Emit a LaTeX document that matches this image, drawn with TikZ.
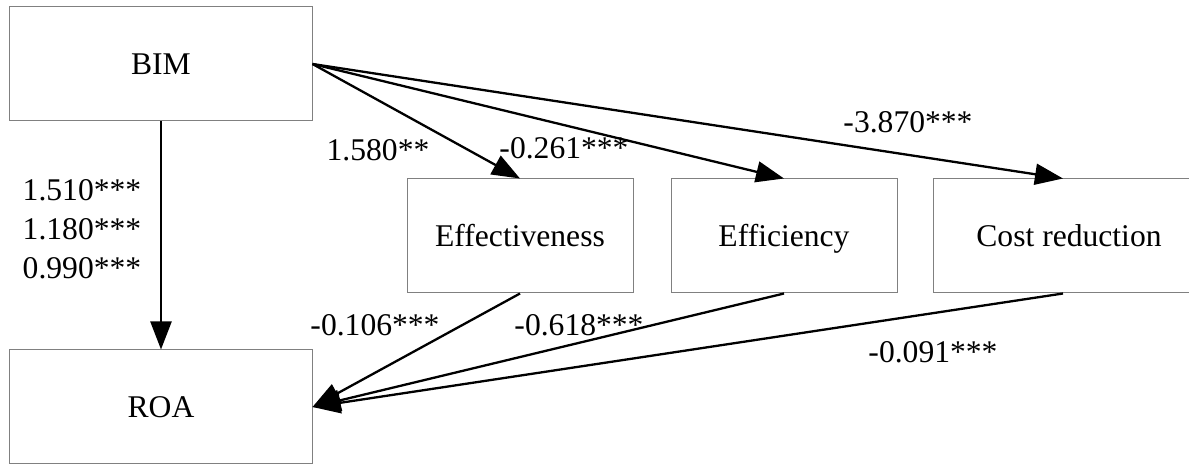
\documentclass[tikz,border=0pt]{standalone}
\usepackage{fontspec}
\setmainfont{Liberation Serif}
\usetikzlibrary{positioning,arrows.meta}

\begin{document}
\begin{tikzpicture}[
    >={Triangle[length=14pt,width=10.5pt]}, font=\fontsize{15.8}{19.5}\selectfont,
    var/.style={draw=black!50, line width=0.5pt, minimum height=57pt, inner sep=0pt, text height=14pt, text depth=3.5pt},
    link/.style={->, line width=1.15pt},
    coef/.style={inner sep=0pt, align=center},
  ]
  \useasboundingbox (-80.5pt,32pt) rectangle (514pt,-200pt);
  \node[var, minimum width=151pt] (bim) at (0,0) {BIM};
  \node[var, minimum width=151pt, below=114pt of bim] (roa) {ROA};
  \node[var, minimum width=113pt, below right=28.5pt and 47pt of bim] (effe) {Effectiveness};
  \node[var, minimum width=113pt, right=18.5pt of effe] (effi) {Efficiency};
  \node[var, minimum width=136pt, right=17.5pt of effi] (cost) {Cost reduction};
  % paths from BIM
  \draw[link] (bim) -- (roa);
  \draw[link] (bim.east) -- (effe.north);
  \draw[link] (bim.east) -- (effi.north);
  \draw[link] (bim.east) -- ([xshift=-3pt]cost.north);
  % paths to ROA
  \draw[link] (effe.south) -- (roa.east);
  \draw[link] (effi.south) -- (roa.east);
  \draw[link] ([xshift=-3pt]cost.south) -- (roa.east);
  % coefficients
  \node[coef] (c-roa) at (-39.5pt,-82.5pt) {1.510***\\1.180***\\0.990***};
  \node[coef] (c-effe) at (108.5pt,-43pt) {1.580**};
  \node[coef] (c-effi) at (201.5pt,-42pt) {-0.261***};
  \node[coef] (c-cost) at (373.5pt,-29pt) {-3.870***};
  \node[coef] (c-effe-roa) at (107pt,-130.5pt) {-0.106***};
  \node[coef] (c-effi-roa) at (209pt,-130.5pt) {-0.618***};
  \node[coef] (c-cost-roa) at (386pt,-144pt) {-0.091***};
\end{tikzpicture}
\end{document}
